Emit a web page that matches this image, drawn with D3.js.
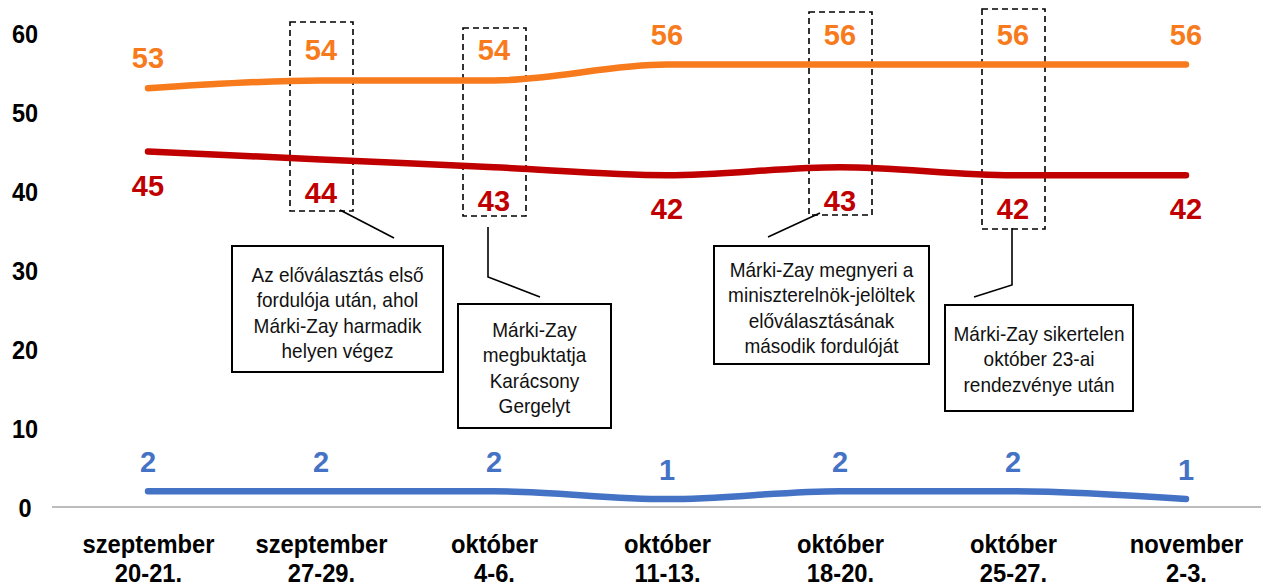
<!DOCTYPE html>
<html>
<head>
<meta charset="utf-8">
<script src="https://cdn.jsdelivr.net/npm/d3@7"></script>
<style>
  body { margin: 0; background: #fff; }
  svg text { font-family: "Liberation Sans", Arial, sans-serif; }
</style>
</head>
<body>
<div id="Chart"></div>
<script>
// data
var categories = ["szeptember|20-21.", "szeptember|27-29.", "október|4-6.", "október|11-13.",
                  "október|18-20.", "október|25-27.", "november|2-3."];
var orangeValues = [53, 54, 54, 56, 56, 56, 56];
var redValues = [45, 44, 43, 42, 43, 42, 42];
var blueValues = [2, 2, 2, 1, 2, 2, 1];
var yTicks = [0, 10, 20, 30, 40, 50, 60];

var notes = [
    ["Az előválasztás első", "fordulója után, ahol", "Márki-Zay harmadik", "helyen végez"],
    ["Márki-Zay", "megbuktatja", "Karácsony", "Gergelyt"],
    ["Márki-Zay megnyeri a", "miniszterelnök-jelöltek", "előválasztásának", "második fordulóját"],
    ["Márki-Zay sikertelen", "október 23-ai", "rendezvénye után"]
];

var width = 1261, height = 588;
var narrow = "scale(0.94,1)";   // the original font is a bit condensed

var svg = d3.select("#Chart")
            .append("svg")
            .attr("class", "chart")
            .attr("width", width)
            .attr("height", height);

var x = d3.scalePoint().domain(categories).range([148, 1186]);
var y = d3.scaleLinear().domain([0, 60]).range([507, 33]);

// baseline
svg.append("line")
   .attr("x1", 52).attr("x2", width)
   .attr("y1", y(0)).attr("y2", y(0))
   .attr("stroke", "#a6a6a6").attr("stroke-width", 1.3);

// y axis labels
var yAxis = svg.append("g")
   .attr("transform", "translate(25,0)")
   .call(d3.axisLeft(y).tickValues(yTicks).tickSize(0).tickPadding(0));
yAxis.select(".domain").remove();
yAxis.selectAll("text")
   .attr("text-anchor", "middle")
   .attr("x", 0)
   .attr("dy", "0.36em")
   .attr("transform", narrow)
   .style("font-size", "25px")
   .style("font-weight", "bold")
   .attr("fill", "#000");

// x axis labels (two lines)
var xAxis = svg.append("g")
   .attr("transform", "translate(0," + y(0) + ")")
   .call(d3.axisBottom(x).tickSize(0).tickFormat(""));
xAxis.select(".domain").remove();
xAxis.selectAll(".tick").each(function(d){
    var parts = d.split("|");
    var t = d3.select(this).append("text")
        .attr("fill", "#000")
        .attr("text-anchor", "middle")
        .attr("transform", "scale(0.95,1)")
        .style("font-size", "25px")
        .style("font-weight", "bold");
    t.append("tspan").attr("x", 0).attr("y", 46).text(parts[0]);
    t.append("tspan").attr("x", 0).attr("y", 75).text(parts[1]);
});

// dashed frames
var frames = [
    {col: 1, top: 22, bottom: 211},
    {col: 2, top: 28, bottom: 216},
    {col: 4, top: 12, bottom: 215},
    {col: 5, top: 9, bottom: 229}
];
svg.selectAll(".frame")
   .data(frames)
   .enter().append("rect")
   .attr("class", "frame")
   .attr("x", d => x(categories[d.col]) - 31)
   .attr("width", 63)
   .attr("y", d => d.top)
   .attr("height", d => d.bottom - d.top)
   .attr("fill", "none")
   .attr("stroke", "#000")
   .attr("stroke-width", 1.6)
   .attr("stroke-dasharray", "6,4");

// series
var series = [
    {values: orangeValues, color: "#f77b1c", dy: -20},
    {values: redValues, color: "#c00000", dy: 44},
    {values: blueValues, color: "#4472c4", dy: -19}
];
var line = d3.line()
    .x((d, i) => x(categories[i]))
    .y(d => y(d))
    .curve(d3.curveMonotoneX);

series.forEach(function(s){
    svg.append("path")
       .datum(s.values)
       .attr("fill", "none")
       .attr("stroke", s.color)
       .attr("stroke-width", 6.5)
       .attr("stroke-linecap", "round")
       .attr("stroke-linejoin", "round")
       .attr("d", line);

    svg.selectAll(null)
       .data(s.values)
       .enter().append("text")
       .attr("x", (d, i) => x(categories[i]))
       .attr("y", d => y(d) + s.dy)
       .attr("text-anchor", "middle")
       .attr("fill", s.color)
       .style("font-size", "29px")
       .style("font-weight", "bold")
       .text(d => d);
});

// annotation boxes with connectors
var boxes = [
    {x0: 232, x1: 443, y0: 246, y1: 372, ty: 282, lead: [[340, 210], [394, 238]]},
    {x0: 458, x1: 611, y0: 304, y1: 428, ty: 337, lead: [[488, 227], [488, 277], [540, 297]]},
    {x0: 714, x1: 929, y0: 246, y1: 364, ty: 277, lead: [[820, 213], [768, 237]]},
    {x0: 945, x1: 1133, y0: 305, y1: 411, ty: 341, lead: [[1012, 228], [1012, 285], [974, 297]]}
];
boxes.forEach(function(b, i){
    svg.append("path")
       .attr("d", d3.line()(b.lead))
       .attr("fill", "none")
       .attr("stroke", "#000")
       .attr("stroke-width", 1.6);
    svg.append("rect")
       .attr("x", b.x0).attr("y", b.y0)
       .attr("width", b.x1 - b.x0).attr("height", b.y1 - b.y0)
       .attr("fill", "#fff")
       .attr("stroke", "#000")
       .attr("stroke-width", 2);
    var t = svg.append("text")
       .attr("text-anchor", "middle")
       .attr("fill", "#111")
       .attr("transform", "translate(" + (b.x0 + b.x1) / 2 + ",0) scale(0.95,1)")
       .style("font-size", "20px");
    notes[i].forEach(function(l, k){
        t.append("tspan")
         .attr("x", 0)
         .attr("y", b.ty + k * 25.5)
         .text(l);
    });
});
</script>
</body>
</html>
